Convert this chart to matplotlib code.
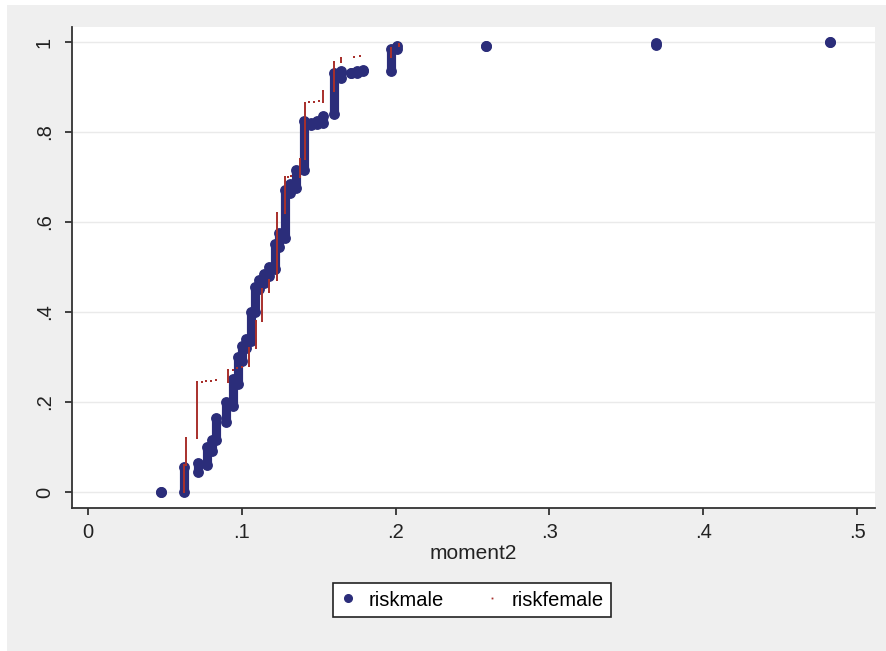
import matplotlib
matplotlib.use('Agg')
import matplotlib.pyplot as plt
from matplotlib.patches import Rectangle
from matplotlib.lines import Line2D

# step clusters of the cumulative plot: x value, lowest and highest cumulative share
male_x = [0.0475, 0.0625, 0.0715, 0.0775, 0.0805, 0.0835, 0.0895, 0.094, 0.0975, 0.100,
          0.103, 0.106, 0.1085, 0.1115, 0.1145, 0.118, 0.1215, 0.1245, 0.128, 0.1315,
          0.1355, 0.1405, 0.145, 0.149, 0.153, 0.160, 0.1645, 0.171, 0.175, 0.179,
          0.197, 0.201, 0.259, 0.369, 0.4825]
male_lo = [0.0, 0.0, 0.045, 0.06, 0.09, 0.115, 0.155, 0.19, 0.24, 0.29,
           0.32, 0.335, 0.40, 0.45, 0.465, 0.48, 0.495, 0.545, 0.565, 0.665,
           0.675, 0.715, 0.815, 0.818, 0.82, 0.84, 0.92, 0.93, 0.932, 0.935,
           0.935, 0.985, 0.991, 0.994, 1.0]
male_hi = [0.0, 0.055, 0.065, 0.10, 0.115, 0.165, 0.20, 0.25, 0.30, 0.325,
           0.34, 0.40, 0.455, 0.47, 0.485, 0.50, 0.55, 0.575, 0.67, 0.685,
           0.715, 0.825, 0.82, 0.825, 0.835, 0.93, 0.935, 0.932, 0.935, 0.937,
           0.985, 0.99, 0.991, 0.997, 1.0]

female_x = [0.0625, 0.0635, 0.071, 0.074, 0.077, 0.080, 0.083, 0.091, 0.094, 0.097,
            0.100, 0.105, 0.1095, 0.113, 0.118, 0.123, 0.128, 0.130, 0.132, 0.138,
            0.141, 0.144, 0.147, 0.150, 0.153, 0.160, 0.1645, 0.173, 0.177, 0.197,
            0.202]
female_lo = [0.0, 0.06, 0.12, 0.245, 0.246, 0.247, 0.248, 0.245, 0.272, 0.275,
             0.278, 0.28, 0.32, 0.38, 0.445, 0.47, 0.62, 0.70, 0.702, 0.70,
             0.74, 0.866, 0.867, 0.868, 0.867, 0.89, 0.955, 0.967, 0.968, 0.967,
             0.99]
female_hi = [0.06, 0.12, 0.245, 0.245, 0.246, 0.247, 0.248, 0.27, 0.272, 0.275,
             0.278, 0.32, 0.38, 0.45, 0.47, 0.62, 0.70, 0.70, 0.702, 0.74,
             0.865, 0.866, 0.867, 0.868, 0.89, 0.955, 0.965, 0.967, 0.968, 0.987,
             0.995]

x_ticks = [0, 0.1, 0.2, 0.3, 0.4, 0.5]
x_labels = ['0', '.1', '.2', '.3', '.4', '.5']
y_ticks = [0, 0.2, 0.4, 0.6, 0.8, 1.0]
y_labels = ['0', '.2', '.4', '.6', '.8', '1']

navy = '#2b2d7a'
red = '#a8302c'

plt.rcParams['font.family'] = ['Liberation Sans', 'DejaVu Sans']

fig = plt.figure(figsize=(8.86, 6.51), dpi=100, facecolor='white')
# grey graph region behind the plot
fig.patches.append(Rectangle((7/886, 0), 1, 1 - 5/651, transform=fig.transFigure,
                             facecolor='#efefef', edgecolor='none', zorder=-5))

ax = fig.add_axes([72/886, 143/651, 803/886, 481/651])
ax.set_facecolor('white')

# male: thick stacked dots
ax.vlines(male_x, male_lo, male_hi, color=navy, lw=6.6, capstyle='round', zorder=2)
ax.plot(male_x, male_lo, 'o', color=navy, ms=6.8, mec=navy, zorder=2)
ax.plot(male_x, male_hi, 'o', color=navy, ms=6.8, mec=navy, zorder=2)

# female: tiny dots forming thin steps
ax.vlines(female_x, female_lo, female_hi, color=red, lw=1.4, zorder=3)
ax.plot(female_x, female_hi, 's', color=red, ms=1.8, mew=0, zorder=3)
ax.plot(female_x, female_lo, 's', color=red, ms=1.8, mew=0, zorder=3)

ax.set_xlim(-0.0104, 0.5117)
ax.set_ylim(-0.0356, 1.0333)
ax.set_xticks(x_ticks)
ax.set_xticklabels(x_labels)
ax.set_yticks(y_ticks)
ax.set_yticklabels(y_labels, rotation=90, va='center')
ax.tick_params(axis='both', direction='out', length=5, width=1.2, colors='#222222',
               labelsize=14.5, labelcolor='#222222')
ax.tick_params(axis='y', pad=8)
ax.tick_params(axis='x', pad=6)
ax.yaxis.grid(True, color='#eaeaea', lw=1)
ax.set_axisbelow(True)
for s in ['top', 'right']:
    ax.spines[s].set_visible(False)
for s in ['left', 'bottom']:
    ax.spines[s].set_color('#333333')
    ax.spines[s].set_linewidth(1.3)

ax.set_xlabel('moment2', fontsize=15, color='#222222', labelpad=1)

handles = [Line2D([], [], ls='none', marker='o', color=navy, ms=5.5),
           Line2D([], [], ls='none', marker='s', color=red, ms=1.3, mew=0)]
leg = fig.legend(handles, ['riskmale', 'riskfemale'], loc='center',
                 bbox_to_anchor=(472/886, 51/651), ncol=2, fontsize=14.5,
                 frameon=True, fancybox=False, edgecolor='#222222', framealpha=1,
                 handlelength=0.8, handletextpad=0.6, columnspacing=2.0,
                 borderpad=0.35)
leg.get_frame().set_linewidth(1.2)

fig.savefig('out.png', dpi=100, facecolor=fig.get_facecolor())
